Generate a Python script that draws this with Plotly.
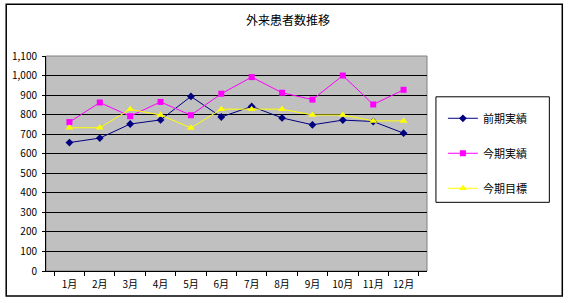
import plotly.graph_objects as go

months = ["1月", "2月", "3月", "4月", "5月", "6月", "7月", "8月", "9月", "10月", "11月", "12月"]
prev_actual = [657, 680, 752, 773, 893, 788, 842, 783, 748, 772, 765, 705]
curr_actual = [762, 862, 792, 865, 797, 907, 992, 912, 877, 1000, 852, 927]
curr_target = [733, 733, 827, 798, 732, 828, 828, 828, 798, 798, 768, 768]
y_ticks = list(range(0, 1101, 100))

FONT = "Noto Sans CJK JP"

fig = go.Figure()
fig.add_trace(go.Scatter(x=months, y=prev_actual, name="前期実績", mode="lines+markers",
                         line=dict(color="#000080", width=1),
                         marker=dict(symbol="diamond", size=6, color="#000080"),
                         legendgroup="a"))
fig.add_trace(go.Scatter(x=months, y=curr_actual, name="今期実績", mode="lines+markers",
                         line=dict(color="#FF00FF", width=1),
                         marker=dict(symbol="square", size=6, color="#FF00FF"),
                         legendgroup="b"))
fig.add_trace(go.Scatter(x=months, y=curr_target, name="今期目標", mode="lines+markers",
                         line=dict(color="#FFFF00", width=1),
                         marker=dict(symbol="triangle-up", size=7, color="#FFFF00"),
                         legendgroup="c"))

L, R, T, B = 44, 427, 56, 272
W, H = 568, 303
pw, ph = R - L, B - T

def px_x(x):
    return (x - L) / pw

def px_y(y):
    return (B - y) / ph

fig.update_layout(
    width=W, height=H,
    margin=dict(l=L, r=W - R, t=T, b=H - B),
    paper_bgcolor="white",
    plot_bgcolor="#C0C0C0",
    font=dict(family=FONT, size=10, color="black"),
    title=dict(text="外来患者数推移", xref="container", yref="container",
               x=288 / W, xanchor="center", y=1 - 21 / H, yanchor="middle",
               font=dict(family=FONT, size=12, color="black")),
    showlegend=True,
    legend=dict(x=px_x(443), y=px_y(104), xanchor="left", yanchor="top",
                bgcolor="rgba(0,0,0,0)", borderwidth=0,
                font=dict(family=FONT, size=11, color="black"),
                traceorder="grouped", tracegroupgap=16, itemwidth=30),
    xaxis=dict(type="category", tickson="boundaries", ticks="outside", ticklen=4,
               tickcolor="black", showline=True, linecolor="black", linewidth=1,
               showgrid=False, tickfont=dict(size=10), fixedrange=True,
               ticklabelstandoff=4),
    yaxis=dict(range=[0, 1100], tickvals=y_ticks, tickformat=",d", ticks="outside", ticklen=3,
               tickcolor="black", showline=True, linecolor="black", linewidth=1,
               showgrid=True, gridcolor="black", gridwidth=1, zeroline=False,
               tickfont=dict(size=10), fixedrange=True, ticklabelstandoff=3),
    shapes=[
        dict(type="rect", xref="paper", yref="paper", x0=0, x1=1, y0=0, y1=1,
             line=dict(color="#808080", width=1), layer="below"),
        dict(type="rect", xref="paper", yref="paper", x0=px_x(436), x1=px_x(550),
             y0=px_y(203), y1=px_y(97), line=dict(color="black", width=1)),
        dict(type="rect", xref="paper", yref="paper", x0=px_x(4), x1=px_x(563),
             y0=px_y(297), y1=px_y(4), line=dict(color="black", width=1.5)),
    ],
)

fig.write_html("out.html")
